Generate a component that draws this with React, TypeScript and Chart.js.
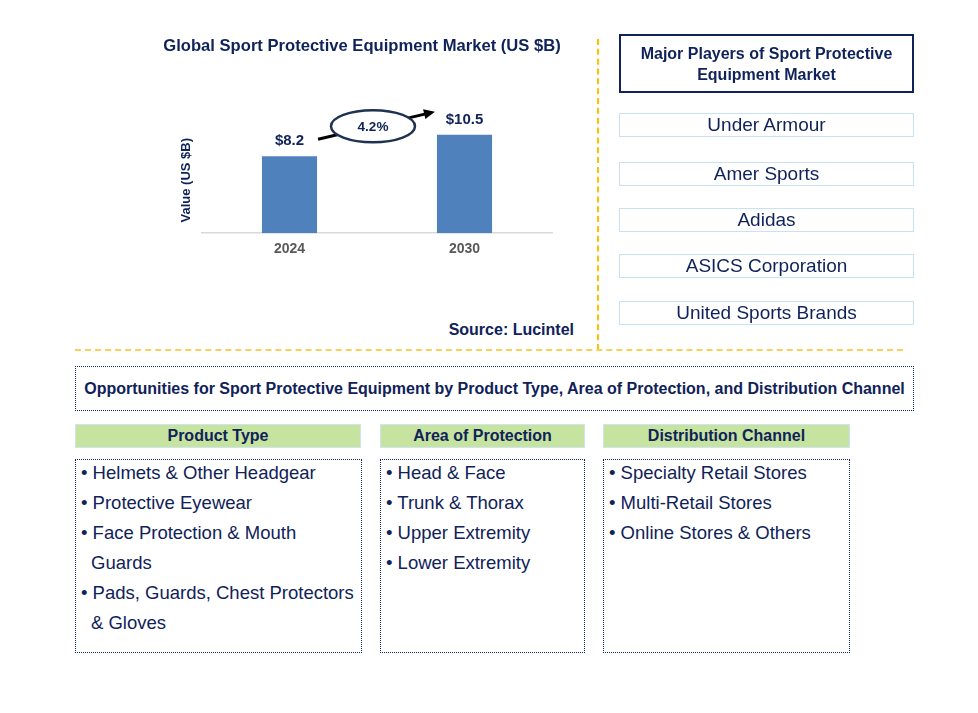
import React, { useEffect, useRef } from "react";
import { Chart, registerables } from "chart.js";

Chart.register(...registerables);

const chartTitle = "Global Sport Protective Equipment Market (US $B)";
const yAxisTitle = "Value (US $B)";
const categories = ["2024", "2030"];
const values = [8.2, 10.5];
const cagrLabel = "4.2%";
const sourceText = "Source: Lucintel";

const playersTitle = "Major Players of Sport Protective Equipment Market";
const players = ["Under Armour", "Amer Sports", "Adidas", "ASICS Corporation", "United Sports Brands"];

const opportunitiesTitle =
  "Opportunities for Sport Protective Equipment by Product Type, Area of Protection, and Distribution Channel";
const segmentTitles = ["Product Type", "Area of Protection", "Distribution Channel"];
const productTypes = [
  "Helmets & Other Headgear",
  "Protective Eyewear",
  "Face Protection & Mouth Guards",
  "Pads, Guards, Chest Protectors & Gloves",
];
const areasOfProtection = ["Head & Face", "Trunk & Thorax", "Upper Extremity", "Lower Extremity"];
const distributionChannels = ["Specialty Retail Stores", "Multi-Retail Stores", "Online Stores & Others"];

const NAVY = "#0f2259";
const BAR = "#4f81bd";
const SANS = "'Liberation Sans', Arial, sans-serif";
const NARROW = "'Liberation Sans Narrow', 'Arial Narrow', 'Liberation Sans', Arial, sans-serif";

const annotationPlugin = {
  id: "annotations",
  afterDatasetsDraw(chart: any) {
    const { ctx, chartArea } = chart;
    const meta = chart.getDatasetMeta(0);
    const bars = meta.data;
    ctx.save();
    // value labels
    ctx.font = `bold 15px ${SANS}`;
    ctx.fillStyle = NAVY;
    ctx.textAlign = "center";
    ctx.textBaseline = "middle";
    bars.forEach((b: any, i: number) => {
      ctx.fillText("$" + values[i], b.x, b.y - 15);
    });
    // y axis title
    ctx.save();
    ctx.translate(chartArea.left - 16, chartArea.bottom - 53);
    ctx.rotate(-Math.PI / 2);
    ctx.font = `bold 13px ${SANS}`;
    ctx.fillStyle = NAVY;
    ctx.fillText(yAxisTitle, 0, 0);
    ctx.restore();
    // CAGR arrow
    const b0 = bars[0];
    const b1 = bars[1];
    const x1 = b0.x + b0.width / 2 + 1;
    const y1 = b0.y - 17;
    const x2 = b1.x - b1.width / 2 - 2;
    const y2 = b1.y - 23;
    ctx.strokeStyle = "#000";
    ctx.lineWidth = 3;
    ctx.beginPath();
    ctx.moveTo(x1, y1);
    ctx.lineTo(x2 - 6, y2 + 1.5);
    ctx.stroke();
    const ang = Math.atan2(y2 - y1, x2 - x1);
    ctx.fillStyle = "#000";
    ctx.beginPath();
    ctx.moveTo(x2, y2);
    ctx.lineTo(x2 - 11 * Math.cos(ang) + 5 * Math.sin(ang), y2 - 11 * Math.sin(ang) - 5 * Math.cos(ang));
    ctx.lineTo(x2 - 11 * Math.cos(ang) - 5 * Math.sin(ang), y2 - 11 * Math.sin(ang) + 5 * Math.cos(ang));
    ctx.closePath();
    ctx.fill();
    const t = 0.47;
    const cx = x1 + (x2 - x1) * t;
    const cy = y1 + (y2 - y1) * t;
    ctx.beginPath();
    ctx.ellipse(cx, cy, 42, 16, 0, 0, Math.PI * 2);
    ctx.fillStyle = "#fff";
    ctx.fill();
    ctx.strokeStyle = "#1f3251";
    ctx.lineWidth = 2.5;
    ctx.stroke();
    ctx.font = `bold 13.5px ${SANS}`;
    ctx.fillStyle = NAVY;
    ctx.fillText(cagrLabel, cx, cy + 1);
    ctx.restore();
  },
};

function BarChart() {
  const ref = useRef<HTMLCanvasElement>(null);
  useEffect(() => {
    if (!ref.current) return;
    const chart = new Chart(ref.current, {
      type: "bar",
      data: {
        labels: categories,
        datasets: [
          {
            data: values,
            backgroundColor: BAR,
            categoryPercentage: 1,
            barPercentage: 0.315,
          },
        ],
      },
      options: {
        responsive: false,
        animation: false,
        layout: { padding: { left: 52, right: 22, top: 53, bottom: 4 } },
        plugins: {
          legend: { display: false },
          tooltip: { enabled: false },
          title: { display: false },
        },
        scales: {
          x: {
            grid: { display: false, drawTicks: false },
            border: { display: true, color: "#d9d9d9", width: 1.5 },
            ticks: { color: "#595959", font: { size: 14, weight: "bold", family: SANS }, padding: 8 },
          },
          y: { display: false, min: 0, max: 16 },
        },
      },
      plugins: [annotationPlugin],
    });
    return () => chart.destroy();
  }, []);
  return (
    <canvas
      ref={ref}
      width={424}
      height={240}
      style={{ position: "absolute", left: 150, top: 30, width: 424, height: 240 }}
    />
  );
}

function BulletList({ items, left, width }: { items: string[]; left: number; width: number }) {
  return (
    <div
      style={{
        position: "absolute",
        left,
        top: 459,
        width,
        height: 194,
        boxSizing: "border-box",
        border: `1.5px dotted ${NAVY}`,
      }}
    >
      <div style={{ padding: "0 0 0 3px", marginTop: -2 }}>
        {items.map((it) => (
          <div
            key={it}
            style={{
              fontFamily: NARROW,
              fontSize: 18.5,
              lineHeight: "30px",
              color: NAVY,
              paddingLeft: 12,
              textIndent: -10,
            }}
          >
            {"\u2022 " + it}
          </div>
        ))}
      </div>
    </div>
  );
}

export default function App() {
  const segLefts = [75, 380, 603];
  const segWidths = [286, 205, 247];
  const lists = [productTypes, areasOfProtection, distributionChannels];
  const playerTops = [113, 162, 208, 254, 301];
  return (
    <div style={{ position: "absolute", left: 0, top: 0, width: 978, height: 713, background: "#fff" }}>
      <BarChart />
      <div
        style={{
          position: "absolute",
          left: 100,
          top: 36,
          width: 524,
          textAlign: "center",
          fontFamily: SANS,
          fontWeight: "bold",
          fontSize: 16.6,
          lineHeight: "20px",
          color: NAVY,
        }}
      >
        {chartTitle}
      </div>
      <div
        style={{
          position: "absolute",
          left: 430,
          top: 321,
          width: 144,
          textAlign: "right",
          fontFamily: SANS,
          fontWeight: "bold",
          fontSize: 16,
          color: NAVY,
        }}
      >
        {sourceText}
      </div>
      {/* gold dividers */}
      <div style={{ position: "absolute", left: 597, top: 39, width: 0, height: 311, borderLeft: "2px dashed #ffc000" }} />
      <div style={{ position: "absolute", left: 75, top: 349, width: 828, height: 0, borderTop: "2px dashed #fbcf5a" }} />
      {/* players */}
      <div
        style={{
          position: "absolute",
          left: 619,
          top: 34,
          width: 295,
          height: 59,
          boxSizing: "border-box",
          border: `2px solid ${NAVY}`,
          display: "flex",
          alignItems: "center",
          justifyContent: "center",
          textAlign: "center",
          fontFamily: SANS,
          fontWeight: "bold",
          fontSize: 16,
          lineHeight: "21px",
          color: NAVY,
          padding: "0 10px",
        }}
      >
        {playersTitle}
      </div>
      {players.map((p, i) => (
        <div
          key={p}
          style={{
            position: "absolute",
            left: 619,
            top: playerTops[i],
            width: 295,
            height: 24,
            boxSizing: "border-box",
            border: "1.5px solid #c6e2f3",
            display: "flex",
            alignItems: "center",
            justifyContent: "center",
            fontFamily: SANS,
            fontSize: 19,
            color: NAVY,
          }}
        >
          {p}
        </div>
      ))}
      {/* opportunities */}
      <div
        style={{
          position: "absolute",
          left: 75,
          top: 366,
          width: 839,
          height: 45,
          boxSizing: "border-box",
          border: `1.5px dotted ${NAVY}`,
          display: "flex",
          alignItems: "center",
          justifyContent: "center",
          fontFamily: NARROW,
          fontWeight: "bold",
          fontSize: 16,
          color: NAVY,
        }}
      >
        {opportunitiesTitle}
      </div>
      {segmentTitles.map((s, i) => (
        <div
          key={s}
          style={{
            position: "absolute",
            left: segLefts[i],
            top: 424,
            width: segWidths[i],
            height: 24,
            boxSizing: "border-box",
            background: "#c6e3a0",
            border: "1px solid #cfe3f2",
            display: "flex",
            alignItems: "center",
            justifyContent: "center",
            fontFamily: NARROW,
            fontWeight: "bold",
            fontSize: 16,
            color: NAVY,
          }}
        >
          {s}
        </div>
      ))}
      {lists.map((l, i) => (
        <BulletList key={i} items={l} left={segLefts[i]} width={segWidths[i] + (i === 0 ? 1 : 0)} />
      ))}
    </div>
  );
}
